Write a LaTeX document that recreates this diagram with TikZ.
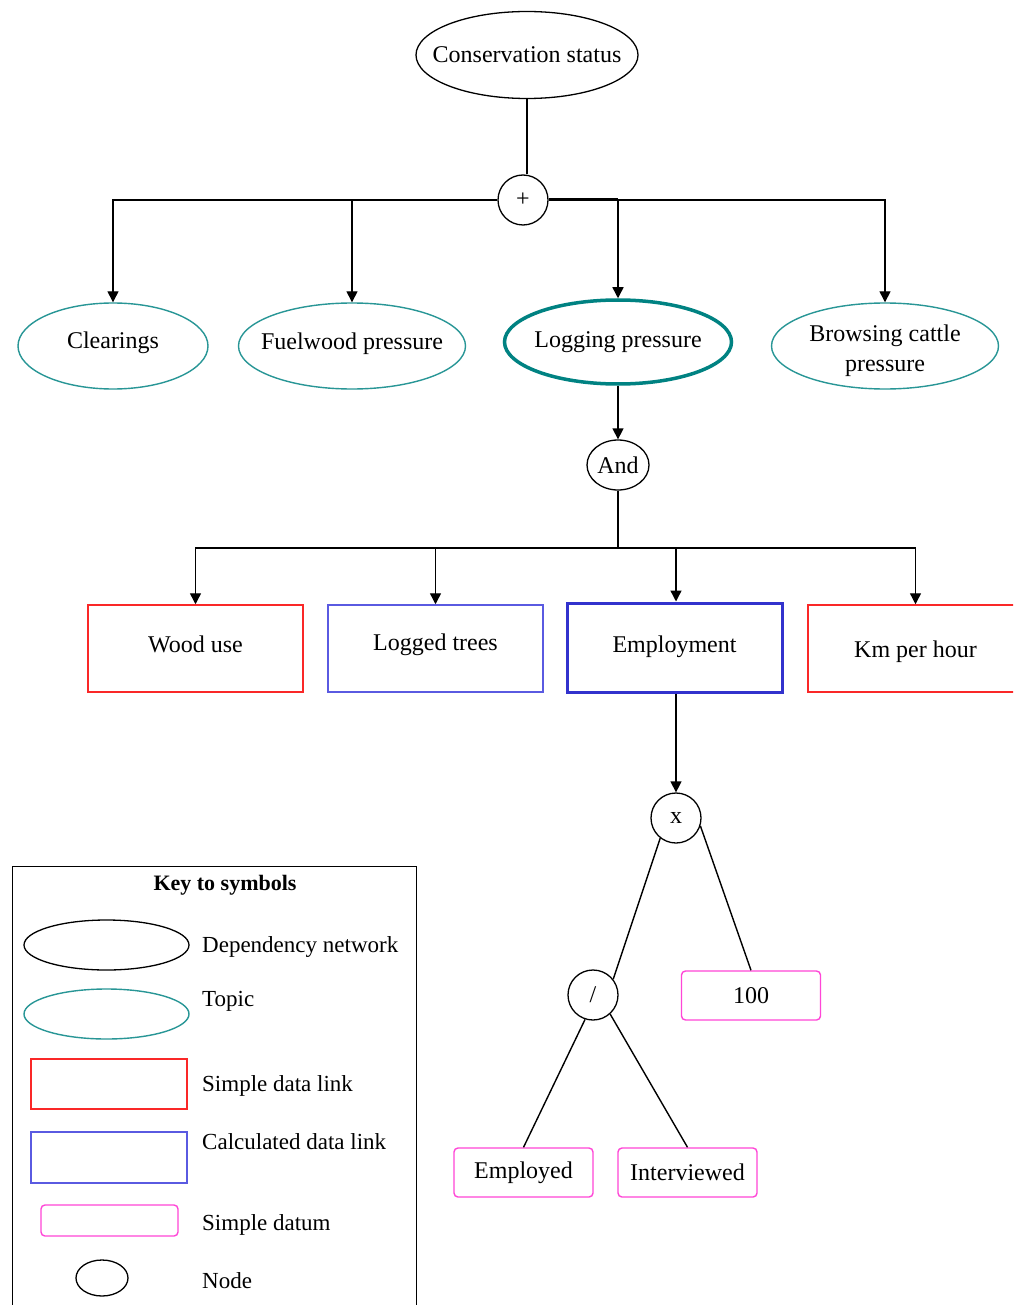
\documentclass[tikz,border=0pt]{standalone}
\usepackage{fontspec}
\setmainfont{Liberation Serif}
\usetikzlibrary{arrows.meta,shapes.geometric}

\definecolor{topicteal}{RGB}{40,150,150}
\definecolor{logteal}{RGB}{0,130,130}
\definecolor{linkred}{RGB}{250,40,40}
\definecolor{calcblue}{RGB}{90,90,225}
\definecolor{calcbluedk}{RGB}{50,50,205}
\definecolor{datumpink}{RGB}{255,70,215}

\begin{document}
\begin{tikzpicture}[x=1pt,y=-1pt,
  font=\fontsize{24}{30}\selectfont,
  dep/.style={ellipse, draw=black, line width=1.3pt, inner sep=0pt},
  topic/.style={ellipse, draw=topicteal, line width=1.4pt, inner sep=0pt},
  sdl/.style={rectangle, draw=linkred, line width=1.5pt, inner sep=0pt,
    minimum width=215pt, minimum height=87pt},
  cdl/.style={rectangle, draw=calcblue, line width=1.5pt, inner sep=0pt,
    minimum width=215pt, minimum height=87pt},
  datum/.style={rectangle, rounded corners=4pt, draw=datumpink, line width=1.4pt,
    inner sep=0pt, minimum width=139pt, minimum height=49pt},
  opnode/.style={circle, draw=black, line width=1.3pt, inner sep=0pt, minimum size=50pt},
  wire/.style={draw=black, line width=1.4pt},
  arr/.style={wire, -{Triangle[width=11pt,length=11pt]}},
  keylabel/.style={anchor=west, inner sep=0pt, font=\fontsize{23}{28}\selectfont}
]
\useasboundingbox (0,0) rectangle (1013,1305);
\fill[white] (0,0) rectangle (1013,1305);
\clip (0,0) rectangle (1013,1305);

% top of the dependency network
\node[dep, minimum width=222pt, minimum height=87pt,
  label={center:Conservation status}] (cons) at (527,55) {};
\node[opnode] (plus) at (523,200) {+};

% topics
\node[topic, minimum width=190pt, minimum height=86pt,
  label={[yshift=3pt]center:Clearings}] (clear) at (113,346) {};
\node[topic, minimum width=227pt, minimum height=86pt,
  label={[yshift=2pt]center:Fuelwood pressure}] (fuel) at (352,346) {};
\node[topic, draw=logteal, line width=3.5pt, minimum width=227pt, minimum height=84pt,
  label={center:Logging pressure}] (log) at (618,342) {};
\node[topic, minimum width=227pt, minimum height=86pt,
  label={[align=center,yshift=-5pt]center:Browsing cattle\\pressure}] (brows) at (885,346) {};

\node[ellipse, draw=black, line width=1.3pt, inner sep=0pt,
  minimum width=62pt, minimum height=50pt, label={center:And}] (and) at (618,465) {};

% data links
\node[sdl, label={[yshift=4pt]center:Wood use}] (wood) at (195.5,648.5) {};
\node[cdl, label={[yshift=4pt]center:Logged trees}] (logged) at (435.5,648.5) {};
\node[cdl, draw=calcbluedk, line width=3pt, minimum height=89pt,
  label={[yshift=1pt]center:Employment}] (emp) at (674.5,647.5) {};
\node[sdl, label={[yshift=-3pt]center:Km per hour}] (km) at (915.5,648.5) {};

% calculation of employment
\node[opnode] (times) at (676,818) {x};
\node[opnode] (div) at (593,995) {/};
\node[datum] (hundred) at (751,995.5) {100};
\node[datum] (employed) at (523.5,1172.5) {Employed};
\node[datum] (interv) at (687.5,1172.5) {Interviewed};

% connectors
\draw[wire] (cons) -- (cons |- plus.north);
\draw[line width=3pt] (plus.east) -- (plus.east -| log.north);
\draw[arr] (plus) -| (clear);
\draw[arr] (plus) -| (fuel);
\draw[arr] (plus) -| (log);
\draw[arr] (plus) -| (brows);
\draw[arr] (log) -- (and);
\coordinate (andbus) at (618,548);
\draw[wire] (and) -- (andbus);
\draw[arr] (andbus) -| (wood);
\draw[arr] (andbus) -| (logged);
\draw[arr] (andbus) -| (times |- emp.north);
\draw[arr] (andbus) -| (km);
\draw[arr] (times |- emp.south) -- (times);
\draw[wire] (times.232) -- (div.38);
\draw[wire] (times.342) -- (hundred.north);
\draw[wire] (div.252) -- (employed.north);
\draw[wire] (div.312) -- (interv.north);

% key to symbols
\node[draw=black, line width=1.3pt, minimum width=404pt, minimum height=480pt,
  anchor=north west, inner sep=0pt] (key) at (12,866) {};
\node[font=\fontsize{22}{26}\selectfont\bfseries] (keytitle) at (225,885) {Key to symbols};
\node[dep, minimum width=165pt, minimum height=50pt] (kdep) at (106.5,945) {};
\node[topic, minimum width=165pt, minimum height=50pt] (ktopic) at (106.5,1014) {};
\node[sdl, minimum width=156pt, minimum height=50pt] (ksdl) at (109,1084) {};
\node[cdl, minimum width=156pt, minimum height=51pt] (kcdl) at (109,1157.5) {};
\node[datum, minimum width=137pt, minimum height=31pt] (kdatum) at (109.5,1220.5) {};
\node[ellipse, draw=black, line width=1.3pt, inner sep=0pt,
  minimum width=52pt, minimum height=36pt] (knode) at (102,1278) {};
\node[keylabel] (ldep) at (202,947) {Dependency network};
\node[keylabel] (ltopic) at (202,1001) {Topic};
\node[keylabel] (lsdl) at (202,1086) {Simple data link};
\node[keylabel] (lcdl) at (202,1142) {Calculated data link};
\node[keylabel] (ldatum) at (202,1225) {Simple datum};
\node[keylabel] (lnode) at (202,1281) {Node};
\end{tikzpicture}
\end{document}
